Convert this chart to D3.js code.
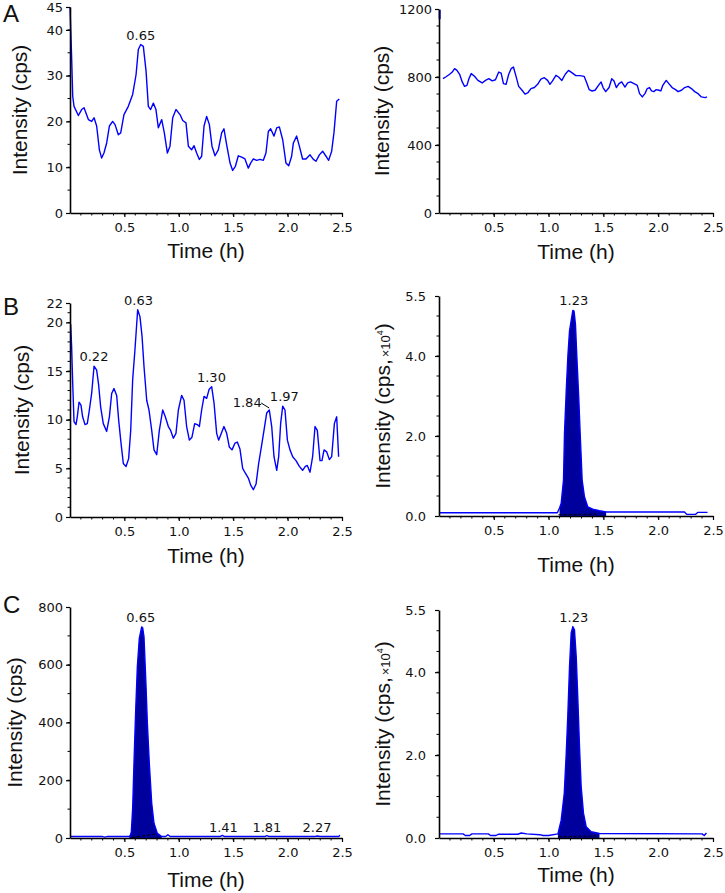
<!DOCTYPE html>
<html>
<head>
<meta charset="utf-8">
<script src="https://cdn.jsdelivr.net/npm/d3@7"></script>
<style>
  body { margin: 0; background: #fff; }
  svg text { font-family: "DejaVu Sans", sans-serif; fill: #111; }
  svg text.title { font-family: "Liberation Sans", Arial, sans-serif; }
</style>
</head>
<body>
<div id="chart"></div>
<script>
// tick values
var xTicks       = [0.5, 1.0, 1.5, 2.0, 2.5];
var aLeftTicks   = [0, 10, 20, 30, 40, 45];
var aRightTicks  = [0, 400, 800, 1200];
var bLeftTicks   = [0, 5, 10, 15, 20, 22];
var cLeftTicks   = [0, 200, 400, 600, 800];
var scaledTicks  = [0, 2, 4, 5.5];   // cps x10^4

// traces: [time (h), intensity]
var aLeftTrace = [[0,45],[0.015,34],[0.025,25.5],[0.037,23.3],[0.077,21.3],[0.107,22.6],[0.129,23],[0.169,20.4],
  [0.199,20],[0.221,20.8],[0.245,19],[0.27,13.8],[0.291,12],[0.312,13.1],[0.337,15.3],[0.362,19],[0.392,20],
  [0.414,19.3],[0.444,17.1],[0.466,17.5],[0.496,21.5],[0.536,23.3],[0.576,25.9],[0.607,30.2],[0.628,35.7],
  [0.65,36.8],[0.674,36.4],[0.699,31],[0.72,23.3],[0.741,22.6],[0.766,24],[0.79,22.6],[0.812,18.6],[0.843,20.4],
  [0.867,17.5],[0.895,13.1],[0.919,14.6],[0.944,20.8],[0.974,22.6],[1.011,21.5],[1.036,20.2],[1.066,19.7],
  [1.088,14.6],[1.118,13.8],[1.14,14.7],[1.164,13.1],[1.189,11.7],[1.21,12.4],[1.232,19],[1.256,21.1],
  [1.281,19.3],[1.305,14.6],[1.333,12.5],[1.363,13.8],[1.394,17.5],[1.415,18.4],[1.44,14.9],[1.471,10.9],
  [1.495,9.3],[1.52,10.2],[1.547,12.5],[1.578,12.2],[1.608,11.8],[1.639,9.8],[1.66,10.9],[1.685,11.8],
  [1.716,11.5],[1.746,11.7],[1.777,11.5],[1.801,13.1],[1.823,17.8],[1.844,18.4],[1.875,16.8],[1.9,18.6],
  [1.924,18.8],[1.955,16],[1.985,10.9],[2.01,10.3],[2.037,12.4],[2.053,15.3],[2.083,16.8],[2.108,14.6],
  [2.138,11.8],[2.169,11.8],[2.206,12.7],[2.237,11.7],[2.261,11.3],[2.292,12.7],[2.322,13.5],[2.353,12.4],
  [2.377,11.5],[2.405,13.5],[2.426,17.5],[2.451,24.4],[2.475,24.9]];

var aRightSpike = [[0.006,1195],[0.006,1140]];
var aRightTrace = [[0.036,790],[0.061,800],[0.097,816],[0.121,829],[0.142,849],[0.164,839],[0.188,816],
  [0.212,771],[0.233,745],[0.255,751],[0.273,790],[0.294,820],[0.324,804],[0.355,780],[0.394,765],[0.424,780],
  [0.455,790],[0.485,777],[0.515,784],[0.545,829],[0.567,823],[0.588,761],[0.612,757],[0.636,816],[0.658,849],
  [0.679,859],[0.703,804],[0.727,745],[0.758,722],[0.785,699],[0.809,706],[0.839,732],[0.87,738],[0.9,757],
  [0.93,788],[0.961,796],[0.991,780],[1.012,757],[1.036,777],[1.067,810],[1.091,800],[1.121,780],[1.152,816],
  [1.182,839],[1.218,823],[1.248,808],[1.285,808],[1.324,804],[1.345,771],[1.37,726],[1.394,718],[1.424,722],
  [1.455,751],[1.479,771],[1.497,738],[1.521,714],[1.552,738],[1.576,790],[1.597,777],[1.618,738],[1.642,761],
  [1.667,771],[1.697,741],[1.721,765],[1.748,771],[1.779,761],[1.809,751],[1.83,702],[1.855,683],[1.879,702],
  [1.9,732],[1.921,738],[1.939,718],[1.961,714],[1.982,726],[2.006,722],[2.024,718],[2.042,751],[2.073,780],
  [2.097,761],[2.127,738],[2.158,726],[2.182,714],[2.212,722],[2.242,738],[2.273,745],[2.303,732],[2.333,714],
  [2.364,702],[2.394,683],[2.43,679],[2.445,683]];

var bLeftTrace = [[0.006,19.8],[0.015,17.5],[0.025,13.7],[0.037,9.8],[0.055,9.5],[0.067,10.3],[0.083,11.8],
  [0.101,11.5],[0.116,10.3],[0.138,9.5],[0.159,9.6],[0.178,11],[0.199,12.7],[0.221,15.5],[0.245,15.1],
  [0.263,13.6],[0.282,11.3],[0.306,9.6],[0.337,8.8],[0.362,10.3],[0.383,12.7],[0.404,13.2],[0.429,12.5],
  [0.447,10],[0.466,7.9],[0.49,5.5],[0.515,5.2],[0.539,6],[0.558,8.9],[0.576,14.1],[0.597,17.2],[0.622,21.3],
  [0.643,20.6],[0.662,18.6],[0.68,15.5],[0.705,12],[0.726,11],[0.751,8.9],[0.772,6.9],[0.797,6.4],[0.821,8.9],
  [0.852,11],[0.876,10.3],[0.904,9.3],[0.925,8.9],[0.95,8.1],[0.974,8.6],[0.996,11],[1.026,12.5],[1.048,12],
  [1.072,9.3],[1.097,7.9],[1.121,8.2],[1.146,9.6],[1.17,9.5],[1.189,9.3],[1.21,11],[1.232,12.4],[1.256,12.2],
  [1.278,13.1],[1.302,13.4],[1.324,11.7],[1.348,8.6],[1.366,7.9],[1.391,8.6],[1.415,9.3],[1.44,8.6],[1.464,7.2],
  [1.489,6.9],[1.517,7.6],[1.538,7.7],[1.562,7],[1.587,5],[1.612,4.5],[1.639,4],[1.66,3.3],[1.685,2.8],
  [1.71,3.4],[1.734,5.5],[1.759,7.2],[1.783,8.9],[1.808,10.7],[1.832,11],[1.854,9.3],[1.875,6.2],[1.9,4.8],
  [1.918,6.2],[1.936,9.6],[1.955,11.4],[1.976,11],[1.998,7.9],[2.022,6.9],[2.047,6.2],[2.077,5.8],[2.108,5.2],
  [2.138,4.8],[2.163,5.2],[2.181,5.3],[2.206,4.6],[2.23,6.2],[2.252,9.3],[2.273,8.9],[2.298,5.8],[2.316,5.8],
  [2.335,6.9],[2.359,6.7],[2.384,5.9],[2.405,6.2],[2.43,9.6],[2.451,10.3],[2.469,6.2]];

var bRightTrace = [[0,0.08],[1.08,0.08],[1.1,0.2],[1.115,0.32],[1.136,0.9],[1.145,2.06],[1.161,3.13],
  [1.176,4.0],[1.191,4.63],[1.221,5.14],[1.232,5.12],[1.245,4.79],[1.258,3.96],[1.276,2.89],[1.288,2.06],
  [1.306,0.9],[1.327,0.48],[1.357,0.23],[1.403,0.17],[1.464,0.13],[1.525,0.1],[2.24,0.1],[2.26,0.04],
  [2.34,0.04],[2.36,0.09],[2.45,0.09]];

var cLeftTrace = [[0,5],[0.3,5],[0.32,3],[0.34,5],[0.545,5],[0.555,10],[0.564,22],[0.576,103],[0.588,258],
  [0.604,443],[0.619,593],[0.637,691],[0.659,731],[0.668,728],[0.68,697],[0.699,524],[0.711,397],[0.729,258],
  [0.751,120],[0.772,51],[0.803,16],[0.843,5],[0.88,5],[0.9,11],[0.92,5],[1.38,5],[1.4,9],[1.42,5],[1.79,5],
  [1.81,8],[1.83,5],[2.25,5],[2.27,7],[2.3,5],[2.47,5],[2.48,10]];

var cRightTrace = [[0,0.1],[0.22,0.1],[0.24,0.06],[0.28,0.06],[0.3,0.1],[0.45,0.1],[0.47,0.06],[0.52,0.06],
  [0.54,0.09],[0.72,0.09],[0.75,0.12],[0.8,0.1],[0.92,0.08],[0.95,0.06],[1.0,0.06],[1.085,0.1],[1.115,0.43],
  [1.143,1.08],[1.161,2.04],[1.176,3.0],[1.191,4.13],[1.206,4.94],[1.221,5.1],[1.236,5.02],[1.252,4.37],
  [1.267,3.33],[1.282,2.2],[1.297,1.24],[1.318,0.6],[1.343,0.27],[1.388,0.15],[1.464,0.11],[2.4,0.1],
  [2.42,0.06],[2.44,0.12]];

// integration baselines under the filled peaks (dashed)
var bRightBase = [[1.09,0.03],[1.45,0.05]];
var cRightBase = [[1.09,0.03],[1.45,0.05]];
var cLeftBase  = [[0.57,2],[0.8,14]];

// peak labels: text, time, intensity at the peak
var aLeftLabels  = [["0.65", 0.65, 36.8]];
var bLeftLabels  = [["0.22", 0.22, 15.5], ["0.63", 0.63, 21.3], ["1.30", 1.30, 13.4],
                    ["1.84", 1.84, 11.0], ["1.97", 1.97, 11.4]];
var bRightLabels = [["1.23", 1.23, 5.14]];
var cLeftLabels  = [["0.65", 0.65, 731], ["1.41", 1.41, 5], ["1.81", 1.81, 5], ["2.27", 2.27, 5]];
var cRightLabels = [["1.23", 1.23, 5.1]];

var svg = d3.select("#chart").append("svg")
    .attr("width", 725)
    .attr("height", 893)
    .style("background", "#fff");

var panels = [
  {trace: aLeftTrace, extra: aRightSpike && null, ticks: aLeftTicks, minor: 5, max: 45, fmt: d3.format("d"),
   x0: 70, x1: 342, y0: 213, y1: 7, labels: aLeftLabels, letter: "A", letterY: 22,
   ylab: "Intensity (cps)", ylabX: 20, xlabY: 258, pad: 3},
  {trace: aRightTrace, extra: aRightSpike, ticks: aRightTicks, minor: 100, max: 1200, fmt: d3.format("d"),
   x0: 439, x1: 713, y0: 213, y1: 9, labels: [],
   ylab: "Intensity (cps)", ylabX: 382, xlabY: 259, pad: 3},
  {trace: bLeftTrace, ticks: bLeftTicks, minor: 1, max: 22, fmt: d3.format("d"),
   x0: 70, x1: 342, y0: 517, y1: 303, labels: bLeftLabels, letter: "B", letterY: 315,
   ylab: "Intensity (cps)", ylabX: 22, xlabY: 563, pad: 3},
  {trace: bRightTrace, ticks: scaledTicks, minor: 0.5, max: 5.5, fmt: d3.format(".1f"),
   x0: 439, x1: 713, y0: 516, y1: 296, labels: bRightLabels, fill: [1.085, 1.53], base: bRightBase,
   ylab: "scaled", ylabX: 383, xlabY: 572, pad: 9},
  {trace: cLeftTrace, ticks: cLeftTicks, minor: 100, max: 800, fmt: d3.format("d"),
   x0: 70, x1: 342, y0: 838, y1: 607, labels: cLeftLabels, letter: "C", letterY: 613,
   fill: [0.54, 0.85], base: cLeftBase,
   ylab: "Intensity (cps)", ylabX: 15, xlabY: 887, pad: 3},
  {trace: cRightTrace, ticks: scaledTicks, minor: 0.5, max: 5.5, fmt: d3.format(".1f"),
   x0: 439, x1: 713, y0: 838, y1: 610, labels: cRightLabels, fill: [1.08, 1.47], base: cRightBase,
   ylab: "scaled", ylabX: 383, xlabY: 882, pad: 9}
];

panels.forEach(drawPanel);

function drawPanel(p) {
  var x = d3.scaleLinear().domain([0, 2.5]).range([p.x0, p.x1]);
  var y = d3.scaleLinear().domain([0, p.max]).range([p.y0, p.y1]);
  var g = svg.append("g");

  // minor ticks
  var xMinor = d3.range(1, 25).map(function(i) { return i / 10; });
  g.append("g").selectAll("line").data(xMinor).join("line")
    .attr("x1", function(d) { return x(d); }).attr("x2", function(d) { return x(d); })
    .attr("y1", p.y0).attr("y2", p.y0 + 2.5)
    .attr("stroke", "#000").attr("stroke-width", 1);
  var yMinor = d3.range(p.minor, p.max, p.minor);
  g.append("g").selectAll("line").data(yMinor).join("line")
    .attr("x1", p.x0 - 2.5).attr("x2", p.x0)
    .attr("y1", function(d) { return y(d); }).attr("y2", function(d) { return y(d); })
    .attr("stroke", "#000").attr("stroke-width", 1);

  // filled peak
  if (p.fill) {
    var peak = p.trace.filter(function(d) { return d[0] >= p.fill[0] && d[0] <= p.fill[1]; });
    g.append("path")
      .datum(peak)
      .attr("fill", "#00009c")
      .attr("d", d3.area()
        .x(function(d) { return x(d[0]); })
        .y0(y(0))
        .y1(function(d) { return y(d[1]); }));
  }

  // trace
  var line = d3.line()
    .x(function(d) { return x(d[0]); })
    .y(function(d) { return y(d[1]); });
  g.append("path")
    .datum(p.trace)
    .attr("fill", "none")
    .attr("stroke", "#0000ff")
    .attr("stroke-width", 1.4)
    .attr("stroke-linejoin", "round")
    .attr("d", line);
  if (p.extra) {
    g.append("path").datum(p.extra)
      .attr("fill", "none").attr("stroke", "#0000ff").attr("stroke-width", 2)
      .attr("d", line);
  }
  if (p.base) {
    g.append("path").datum(p.base)
      .attr("fill", "none").attr("stroke", "#000").attr("stroke-width", 1)
      .attr("stroke-dasharray", "3,2")
      .attr("d", line);
  }

  // axes
  var xAxis = g.append("g")
    .attr("transform", "translate(0," + p.y0 + ")")
    .call(d3.axisBottom(x).tickValues(xTicks).tickFormat(d3.format(".1f"))
      .tickSize(4).tickSizeOuter(0).tickPadding(6));
  var yAxis = g.append("g")
    .attr("transform", "translate(" + p.x0 + ",0)")
    .call(d3.axisLeft(y).tickValues(p.ticks).tickFormat(p.fmt)
      .tickSize(4).tickSizeOuter(0).tickPadding(p.pad));
  [xAxis, yAxis].forEach(function(a) {
    a.select(".domain").attr("stroke", "#000").attr("stroke-width", 1.6);
    a.selectAll(".tick line").attr("stroke", "#000").attr("stroke-width", 1.2);
    a.selectAll(".tick text")
      .attr("font-family", "DejaVu Sans, sans-serif")
      .attr("font-size", 13)
      .attr("fill", "#111");
  });

  // peak labels
  g.append("g").selectAll("text").data(p.labels).join("text")
    .attr("x", function(d) { return x(d[1]) + (d[0] === "1.84" ? -23 : 0); })
    .attr("y", function(d) { return y(d[2]) - (d[0] === "1.84" ? 3 : 5); })
    .attr("text-anchor", "middle")
    .attr("font-size", 13)
    .text(function(d) { return d[0]; });
  p.labels.filter(function(d) { return d[0] === "1.84"; }).forEach(function(d) {
    g.append("line")
      .attr("x1", x(d[1]) - 9).attr("y1", y(d[2]) - 7)
      .attr("x2", x(d[1]) - 1).attr("y2", y(d[2]) - 2)
      .attr("stroke", "#000").attr("stroke-width", 1);
  });

  // axis titles
  g.append("text")
    .attr("class", "title")
    .attr("x", (p.x0 + p.x1) / 2)
    .attr("y", p.xlabY)
    .attr("text-anchor", "middle")
    .attr("font-size", 21)
    .text("Time (h)");

  var yt = g.append("text")
    .attr("class", "title")
    .attr("transform", "translate(" + (p.ylabX + 7) + "," + ((p.y0 + p.y1) / 2) + ") rotate(-90)")
    .attr("text-anchor", "middle")
    .attr("font-size", 21);
  if (p.ylab === "scaled") {
    yt.append("tspan").text("Intensity (cps,");
    yt.append("tspan").attr("font-size", 13).attr("dx", 2).text("×10");
    yt.append("tspan").attr("font-size", 9).attr("dy", -7).text("4");
    yt.append("tspan").attr("dy", 7).text(")");
  } else {
    yt.text(p.ylab);
  }

  if (p.letter) {
    g.append("text")
      .attr("class", "title")
      .attr("x", 3)
      .attr("y", p.letterY)
      .attr("font-size", 24)
      .text(p.letter);
  }
}
</script>
</body>
</html>
